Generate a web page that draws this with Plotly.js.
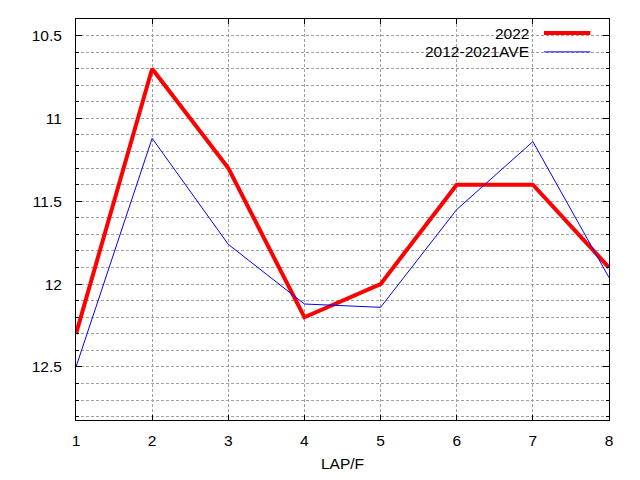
<!DOCTYPE html>
<html>
<head>
<meta charset="utf-8">
<script src="https://cdn.plot.ly/plotly-3.0.1.min.js"></script>
<style>
  html, body { margin: 0; padding: 0; background: #fff; }
  #chart { width: 640px; height: 480px; }
</style>
</head>
<body>
<div id="chart"></div>
<script>
// lap numbers and lap times (s per furlong)
var laps = [1, 2, 3, 4, 5, 6, 7, 8];
var times2022 = [12.3, 10.7, 11.3, 12.2, 12.0, 11.4, 11.4, 11.9];
var timesAve = [12.5, 11.12, 11.76, 12.12, 12.14, 11.55, 11.14, 11.96];
var seriesNames = ['2022', '2012-2021AVE'];

var font = 'Liberation Sans, Arial, sans-serif';
var gridColor = '#a0a0a0';

var trace2022 = {
    x: laps,
    y: times2022,
    type: 'scatter',
    mode: 'lines',
    name: seriesNames[0],
    line: {color: '#ff0000', width: 4}
};

var traceAve = {
    x: laps,
    y: timesAve,
    type: 'scatter',
    mode: 'lines',
    name: seriesNames[1],
    line: {color: '#0000ff', width: 1}
};

// gnuplot style key: text on the left, line sample on the right
var keyTop = 0.965;
var keyStep = 0.047;
var shapes = [{
    type: 'rect', xref: 'paper', yref: 'paper', layer: 'between',
    x0: 0.635, x1: 0.985, y0: 0.89, y1: 0.99,
    fillcolor: '#ffffff', line: {width: 0}
}];
var annotations = [];
[trace2022, traceAve].forEach(function (t, i) {
    var yy = keyTop - i * keyStep;
    annotations.push({
        xref: 'paper', yref: 'paper', x: 0.853, y: yy,
        xanchor: 'right', yanchor: 'middle', showarrow: false,
        text: t.name, font: {family: font, size: 15.5, color: '#000'}
    });
    shapes.push({
        type: 'line', xref: 'paper', yref: 'paper', layer: 'above',
        x0: 0.878, x1: 0.965, y0: yy, y1: yy,
        line: {color: t.line.color, width: t.line.width}
    });
});

var layout = {
    width: 640,
    height: 480,
    margin: {l: 76, r: 31, t: 19, b: 60},
    paper_bgcolor: '#ffffff',
    plot_bgcolor: '#ffffff',
    showlegend: false,
    font: {family: font, size: 15.5, color: '#000'},
    xaxis: {
        range: [1, 8],
        dtick: 1,
        tick0: 1,
        ticks: 'inside',
        ticklen: 5,
        tickcolor: '#000',
        showline: true,
        linecolor: '#000',
        linewidth: 1,
        mirror: 'ticks',
        showgrid: true,
        gridcolor: gridColor,
        griddash: '3px,2px',
        gridwidth: 1,
        zeroline: false,
        ticklabelstandoff: 6,
        title: {text: 'LAP/F', standoff: 10, font: {family: font, size: 15.5}}
    },
    yaxis: {
        range: [12.82, 10.4],
        dtick: 0.5,
        tick0: 10.5,
        ticks: 'inside',
        ticklen: 6,
        tickcolor: '#000',
        showline: true,
        linecolor: '#000',
        linewidth: 1,
        mirror: 'ticks',
        showgrid: true,
        gridcolor: gridColor,
        griddash: '3px,2px',
        gridwidth: 1,
        zeroline: false,
        ticklabelstandoff: 10,
        minor: {
            dtick: 0.1,
            tick0: 10.5,
            ticks: 'inside',
            ticklen: 3,
            tickcolor: '#000',
            showgrid: true,
            gridcolor: gridColor,
            griddash: '3px,2px',
            gridwidth: 1
        }
    },
    shapes: shapes,
    annotations: annotations
};

Plotly.newPlot('chart', [trace2022, traceAve], layout, {displayModeBar: false, staticPlot: true});
</script>
</body>
</html>
